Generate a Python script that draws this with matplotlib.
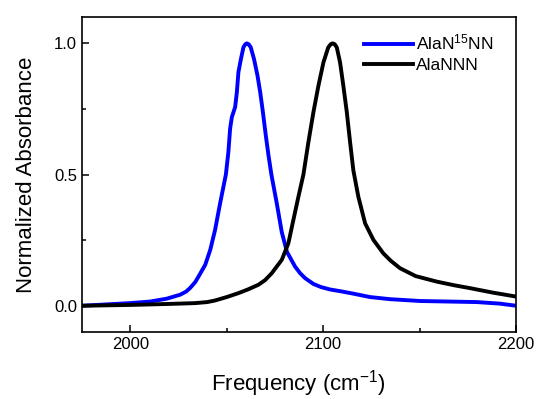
import matplotlib
matplotlib.use("Agg")
import matplotlib.pyplot as plt
from matplotlib.ticker import MultipleLocator

plt.rcParams["font.family"]=["Liberation Sans","DejaVu Sans"]
plt.rcParams["mathtext.default"]="regular"

# AlaN15NN (blue)
freq_15n=[1975.1,2000.0,2010.4,2019.0,2025.9,2029.0,2031.1,2033.7,2035.4,2038.9,2041.5,
          2044.0,2046.6,2049.6,2050.9,2051.8,2052.7,2054.4,2055.3,2056.1,2057.4,
          2058.7,2059.7,2060.5,2061.4,2062.5,2064.2,2066.0,2067.4,2068.8,2070.3,
          2071.7,2073.2,2076.0,2078.6,2081.3,2085.5,2088.1,2090.7,2095.0,2099.0,2103.6,
          2110.0,2115.7,2124.4,2134.7,2150.3,2165.0,2179.6,2191.7,2200.0]
abs_15n=[0.000,0.010,0.016,0.027,0.042,0.054,0.068,0.090,0.111,0.156,0.213,
         0.289,0.390,0.500,0.586,0.675,0.719,0.757,0.814,0.890,0.940,
         0.985,0.997,1.000,0.997,0.985,0.940,0.877,0.814,0.738,0.649,
         0.573,0.500,0.390,0.280,0.205,0.149,0.124,0.105,0.083,0.071,0.062,
         0.054,0.046,0.033,0.025,0.018,0.016,0.014,0.008,0.000]

# AlaNNN (black)
freq_nnn=[1975.1,2000.0,2020.7,2033.7,2040.0,2044.0,2050.0,2056.1,2061.0,2066.5,2070.0,
          2073.4,2078.6,2082.0,2084.6,2087.2,2089.8,2092.4,2095.0,2097.6,2100.2,
          2102.7,2104.0,2105.0,2106.0,2107.1,2108.8,2110.5,2112.3,2114.0,2115.7,
          2118.3,2121.8,2126.1,2131.2,2135.0,2139.9,2148.0,2158.9,2168.0,2176.2,
          2188.0,2200.0]
abs_nnn=[0.000,0.003,0.007,0.010,0.014,0.020,0.033,0.048,0.062,0.080,0.098,
         0.124,0.175,0.238,0.327,0.415,0.500,0.624,0.738,0.839,0.928,
         0.985,0.997,1.000,0.997,0.985,0.928,0.839,0.738,0.624,0.516,
         0.415,0.314,0.251,0.200,0.172,0.143,0.113,0.092,0.078,0.067,
         0.050,0.035]

fig=plt.figure(figsize=(5.38,3.99),dpi=100)
ax=fig.add_axes([0.1524,0.168,0.8066,0.789])

ax.plot(freq_15n,abs_15n,color="#0000ff",lw=2.8,label="AlaN$^{15}$NN")
ax.plot(freq_nnn,abs_nnn,color="black",lw=2.8,label="AlaNNN")

ax.set_xlim(1975,2200)
ax.set_ylim(-0.1,1.1)
ax.xaxis.set_major_locator(MultipleLocator(100))
ax.xaxis.set_minor_locator(MultipleLocator(50))
ax.yaxis.set_major_locator(MultipleLocator(0.5))
ax.yaxis.set_minor_locator(MultipleLocator(0.25))
ax.yaxis.set_major_formatter(lambda v,p:f"{v:.1f}")
ax.tick_params(which="both",direction="in",top=False,right=False,labelsize=12,width=1.1)
ax.tick_params(which="major",length=5)
ax.tick_params(which="minor",length=3)
for s in ax.spines.values():
    s.set_linewidth(1.2)

ax.set_xlabel("Frequency (cm$^{-1}$)",fontsize=16,labelpad=12)
ax.set_ylabel("Normalized Absorbance",fontsize=16,labelpad=12)

ax.legend(loc="upper right",frameon=False,fontsize=12.5,handlelength=2.8,
          handletextpad=0.2,labelspacing=0.3,borderaxespad=0.5,
          bbox_to_anchor=(0.985,1.0))

fig.savefig("out.png",dpi=100)
